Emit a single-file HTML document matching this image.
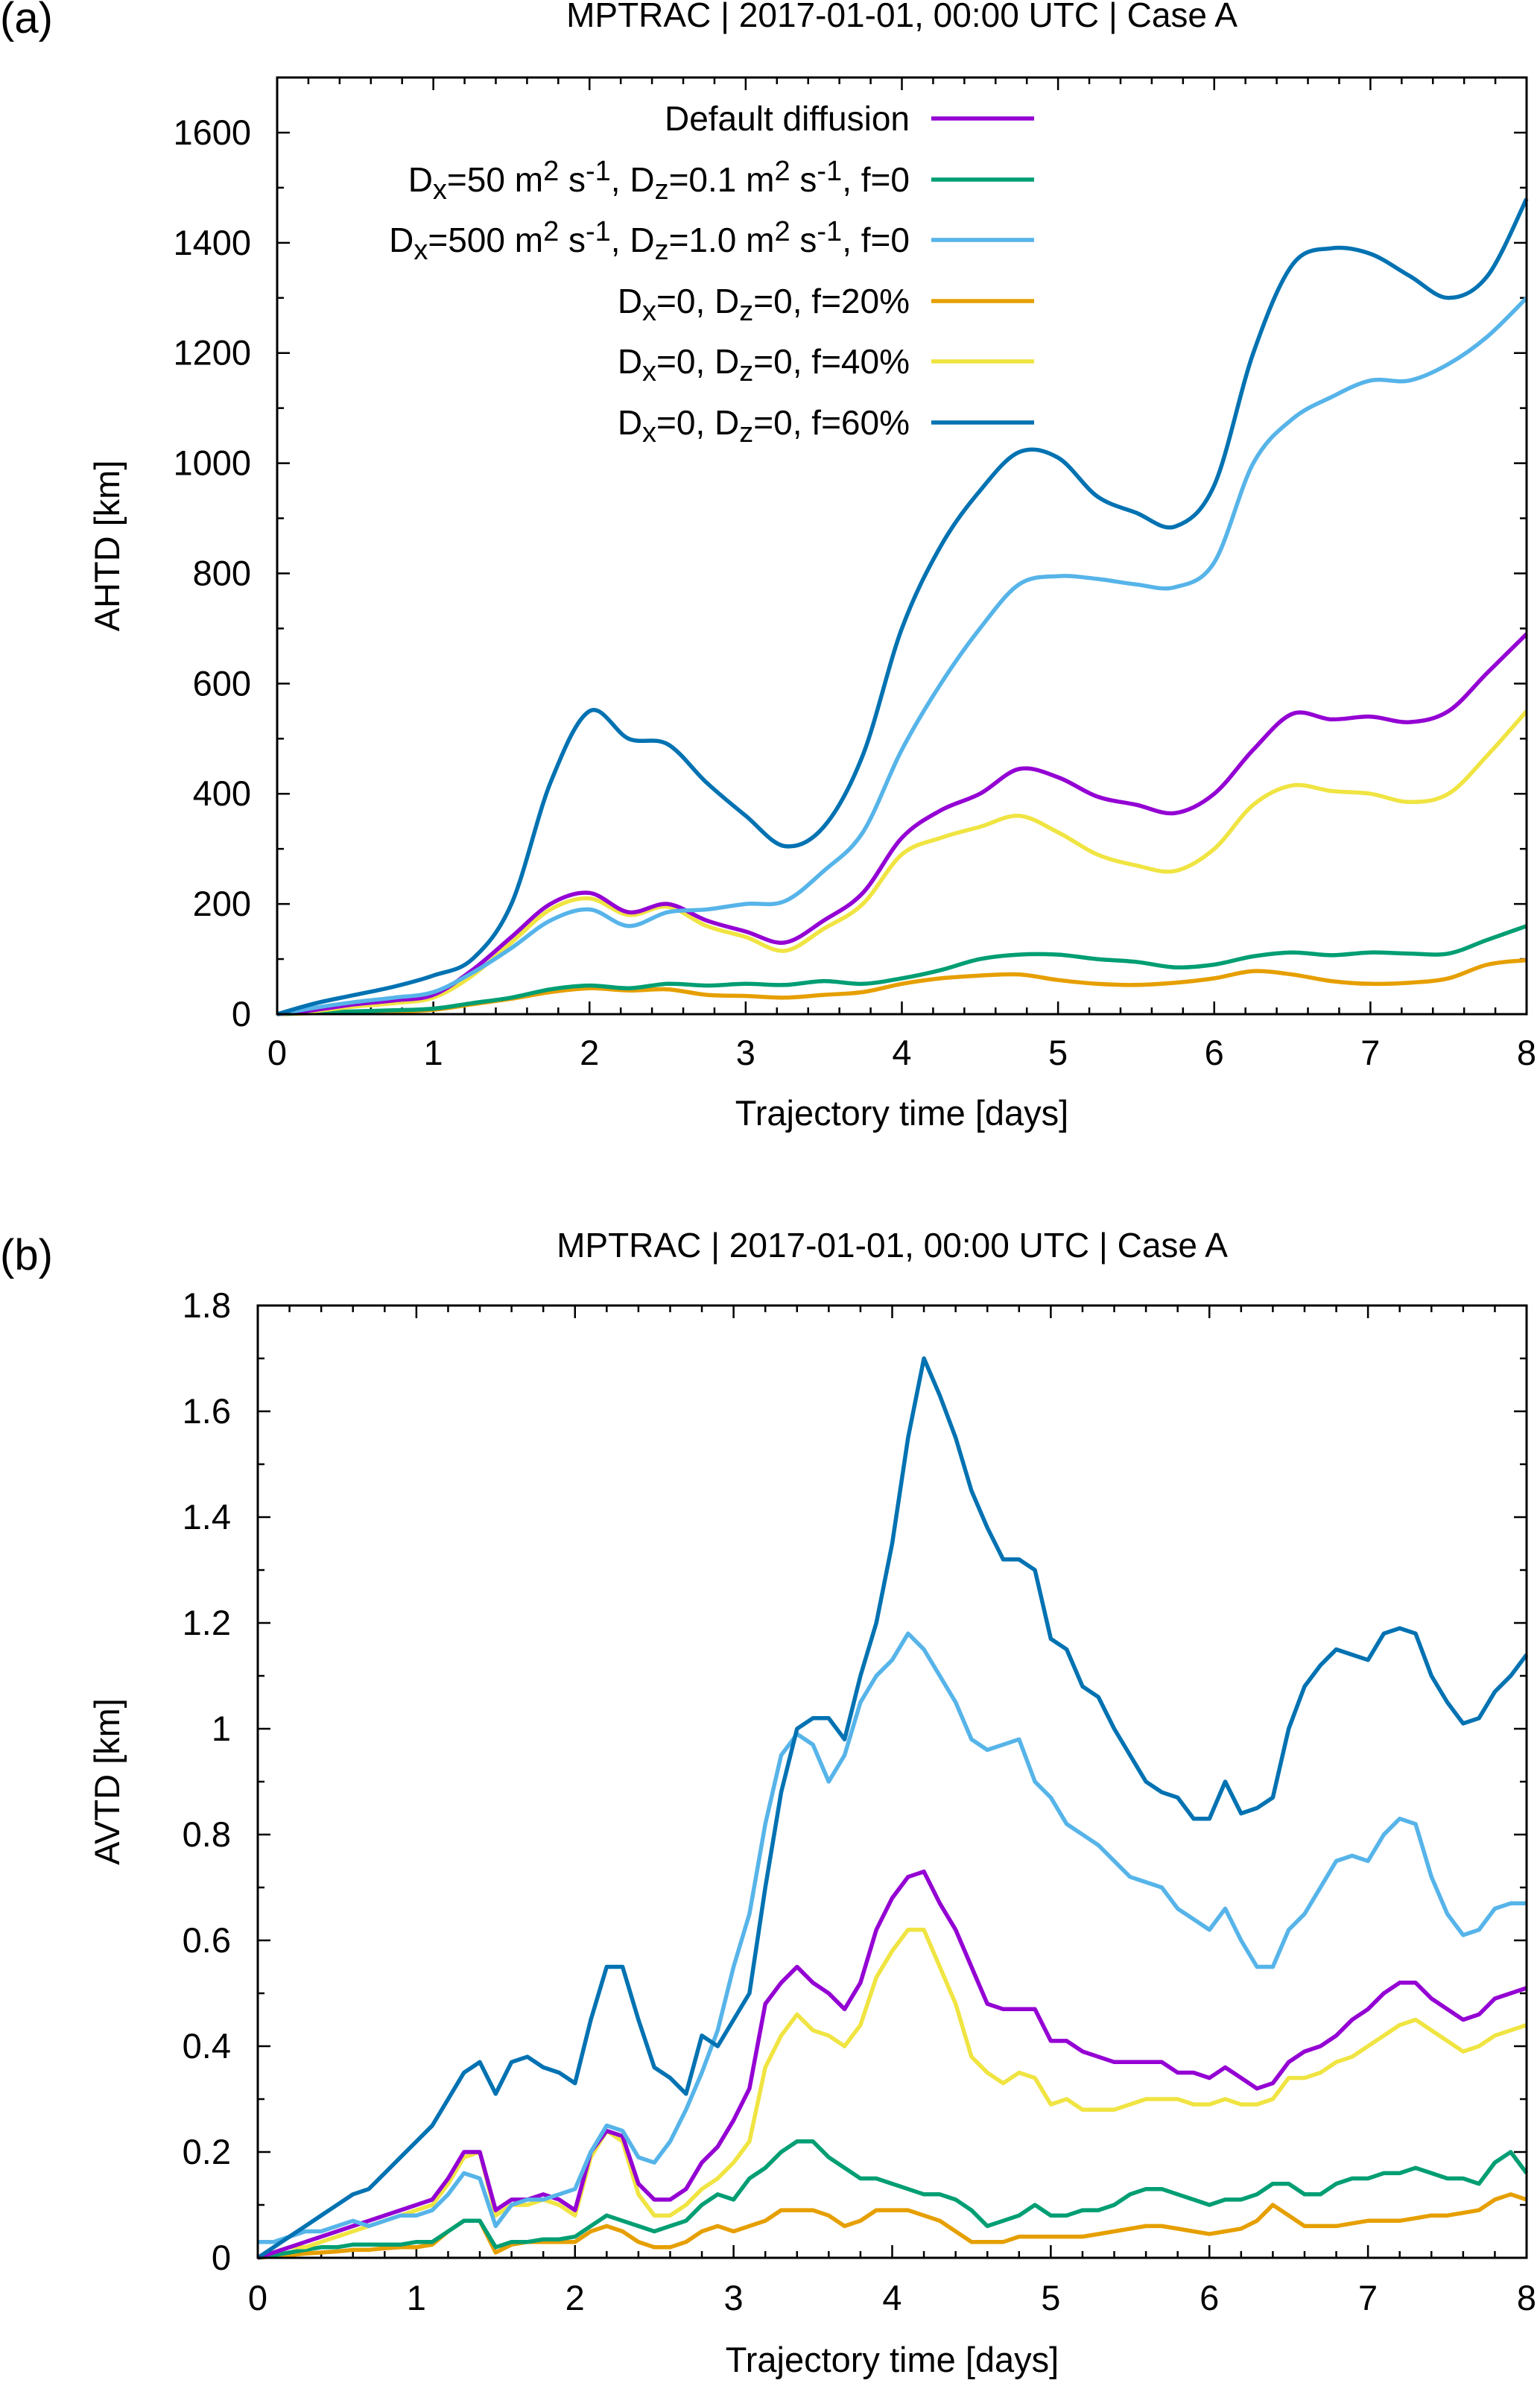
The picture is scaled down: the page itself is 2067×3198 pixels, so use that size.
<!DOCTYPE html>
<html><head><meta charset="utf-8">
<style>
html,body{margin:0;padding:0;background:#fff;}
svg{display:block;}
text{font-family:"Liberation Sans",Arial,sans-serif;fill:#000;}
</style></head>
<body>
<svg id="fig" width="2067" height="3198" viewBox="0 0 2067 3198" xmlns="http://www.w3.org/2000/svg">
  <g id="panelA"></g>
  <g id="panelB"></g>
</svg>
<script>
const daysA = [0,0.25,0.5,0.75,1,1.25,1.5,1.75,2,2.25,2.5,2.75,3,3.25,3.5,3.75,4,4.25,4.5,4.75,5,5.25,5.5,5.75,6,6.25,6.5,6.75,7,7.25,7.5,7.75,8];
const ahtdDefault = [0,8,18,25,35,80,140,200,220,185,200,170,150,130,170,220,320,370,400,445,430,395,380,365,400,480,545,535,540,530,550,620,690];
const ahtdD50 = [0,3,5,7,10,20,30,45,52,47,55,52,55,53,60,55,65,80,100,108,108,100,95,85,90,105,112,107,112,110,110,135,160];
const ahtdD500 = [0,12,22,30,40,75,120,170,190,160,185,190,200,205,260,330,480,600,700,780,795,790,780,775,820,1000,1080,1120,1150,1150,1180,1230,1300];
const ahtdF20 = [0,2,4,5,8,18,28,40,47,43,45,35,33,30,35,40,55,65,70,72,62,55,53,57,65,78,72,60,55,57,65,90,98];
const ahtdF40 = [0,6,14,20,30,70,130,190,210,180,195,160,140,115,155,200,290,320,340,360,330,290,270,260,300,380,415,405,400,385,400,470,550];
const ahtdF60 = [0,20,35,50,70,100,200,420,550,500,490,420,360,305,340,470,700,850,950,1020,1010,940,910,885,960,1200,1360,1390,1380,1340,1300,1340,1480];
const yTicksA = [0,200,400,600,800,1000,1200,1400,1600];
const xTicks = [0,1,2,3,4,5,6,7,8];

const daysB = [];
for (let i = 0; i <= 80; i++) daysB.push(+(i*0.1).toFixed(1));
const avtdF60 = [0,.02,.04,.06,.08,.1,.12,.13,.16,.19,.22,.25,.3,.35,.37,.31,.37,.38,.36,.35,.33,.45,.55,.55,.45,.36,.34,.31,.42,.40,.45,.5,.7,.88,1.0,1.02,1.02,.98,1.1,1.2,1.35,1.55,1.7,1.63,1.55,1.45,1.38,1.32,1.32,1.3,1.17,1.15,1.08,1.06,1.0,.95,.9,.88,.87,.83,.83,.9,.84,.85,.87,1.0,1.08,1.12,1.15,1.14,1.13,1.18,1.19,1.18,1.1,1.05,1.01,1.02,1.07,1.1,1.14];
const avtdD500 = [.03,.03,.04,.05,.05,.06,.07,.06,.07,.08,.08,.09,.12,.16,.15,.06,.10,.11,.11,.12,.13,.2,.25,.24,.19,.18,.22,.28,.35,.43,.55,.65,.82,.95,.99,.97,.90,.95,1.05,1.1,1.13,1.18,1.15,1.1,1.05,.98,.96,.97,.98,.9,.87,.82,.8,.78,.75,.72,.71,.7,.66,.64,.62,.66,.6,.55,.55,.62,.65,.7,.75,.76,.75,.8,.83,.82,.72,.65,.61,.62,.66,.67,.67];
const avtdDefault = [0,.01,.02,.03,.04,.05,.06,.07,.08,.09,.10,.11,.15,.20,.20,.09,.11,.11,.12,.11,.09,.2,.24,.23,.14,.11,.11,.13,.18,.21,.26,.32,.48,.52,.55,.52,.50,.47,.52,.62,.68,.72,.73,.67,.62,.55,.48,.47,.47,.47,.41,.41,.39,.38,.37,.37,.37,.37,.35,.35,.34,.36,.34,.32,.33,.37,.39,.40,.42,.45,.47,.50,.52,.52,.49,.47,.45,.46,.49,.5,.51];
const avtdF40 = [0,.01,.02,.02,.03,.04,.05,.06,.07,.08,.09,.10,.14,.19,.2,.08,.1,.1,.11,.1,.08,.19,.24,.22,.12,.08,.08,.1,.13,.15,.18,.22,.36,.42,.46,.43,.42,.40,.44,.53,.58,.62,.62,.55,.48,.38,.35,.33,.35,.34,.29,.30,.28,.28,.28,.29,.30,.30,.30,.29,.29,.30,.29,.29,.30,.34,.34,.35,.37,.38,.40,.42,.44,.45,.43,.41,.39,.40,.42,.43,.44];
const avtdD50 = [0,.005,.01,.015,.02,.02,.025,.025,.025,.025,.03,.03,.05,.07,.07,.02,.03,.03,.035,.035,.04,.06,.08,.07,.06,.05,.06,.07,.1,.12,.11,.15,.17,.2,.22,.22,.19,.17,.15,.15,.14,.13,.12,.12,.11,.09,.06,.07,.08,.1,.08,.08,.09,.09,.1,.12,.13,.13,.12,.11,.10,.11,.11,.12,.14,.14,.12,.12,.14,.15,.15,.16,.16,.17,.16,.15,.15,.14,.18,.2,.16];
const avtdF20 = [0,.003,.005,.008,.01,.012,.015,.015,.018,.02,.02,.025,.05,.07,.07,.01,.025,.03,.03,.03,.03,.05,.06,.05,.03,.02,.02,.03,.05,.06,.05,.06,.07,.09,.09,.09,.08,.06,.07,.09,.09,.09,.08,.07,.05,.03,.03,.03,.04,.04,.04,.04,.04,.045,.05,.055,.06,.06,.055,.05,.045,.05,.055,.07,.1,.08,.06,.06,.06,.065,.07,.07,.07,.075,.08,.08,.085,.09,.11,.12,.11];
const yTicksB = [0,0.2,0.4,0.6,0.8,1,1.2,1.4,1.6,1.8];
const yTickLabelsB = ["0","0.2","0.4","0.6","0.8","1","1.2","1.4","1.6","1.8"];

const COL = {purple:"#9400d3", green:"#009e73", lblue:"#56b4e9", orange:"#e69f00", yellow:"#f0e442", dblue:"#0072b2"};
const NS = "http://www.w3.org/2000/svg";
function mk(tag, attrs, parent){ const e=document.createElementNS(NS,tag); for(const k in attrs) e.setAttribute(k,attrs[k]); parent.appendChild(e); return e; }

function smoothPath(pts){
  let d = "M"+pts[0][0].toFixed(1)+","+pts[0][1].toFixed(1);
  for (let i=0;i<pts.length-1;i++){
    const p0=pts[Math.max(0,i-1)], p1=pts[i], p2=pts[i+1], p3=pts[Math.min(pts.length-1,i+2)];
    const c1=[p1[0]+(p2[0]-p0[0])/6, p1[1]+(p2[1]-p0[1])/6];
    const c2=[p2[0]-(p3[0]-p1[0])/6, p2[1]-(p3[1]-p1[1])/6];
    d += " C"+c1[0].toFixed(1)+","+c1[1].toFixed(1)+" "+c2[0].toFixed(1)+","+c2[1].toFixed(1)+" "+p2[0].toFixed(1)+","+p2[1].toFixed(1);
  }
  return d;
}
function linePath(pts){ return pts.map((p,i)=>(i?"L":"M")+p[0].toFixed(1)+","+p[1].toFixed(1)).join(" "); }

function drawAxes(g, L, R, T, B, xs, ys, yMax, yTicks, yLabels, yMinor, title, titleY, ylabel, yLabelX, tickRight, xTickY, xLabelY, panelLabel, panelLabelY){
  for (let i=0;i<=40;i++){
    const x = xs(i*0.2); const major = i%5===0; const len = major?17:9;
    const t1 = mk("line",{x1:x,y1:B,x2:x,y2:B-len,stroke:"#000","stroke-width":2.5},g);
    
    
    const t2 = mk("line",{x1:x,y1:T,x2:x,y2:T+len,stroke:"#000","stroke-width":2.5},g);
    
    
  }
  for (let v=0; v<=yMax+1e-9; v+=yMinor){
    const y = ys(v); const major = yTicks.some(t=>Math.abs(t-v)<1e-6); const len = major?17:9;
    const t1 = mk("line",{x1:L,y1:y,x2:L+len,y2:y,stroke:"#000","stroke-width":2.5},g);
    
    
    const t2 = mk("line",{x1:R,y1:y,x2:R-len,y2:y,stroke:"#000","stroke-width":2.5},g);
    
    
  }
  yTicks.forEach((v,i)=>{
    const t = mk("text",{x:tickRight,y:ys(v)+16,"text-anchor":"end","font-size":47},g);
    t.textContent = yLabels[i];
    
    
  });
  xTicks.forEach(v=>{
    const t = mk("text",{x:xs(v),y:xTickY,"text-anchor":"middle","font-size":47},g);
    t.textContent = String(v);
    
    
  });
  const tt = mk("text",{x:(L+R)/2,y:titleY,"text-anchor":"middle","font-size":46},g);
  tt.textContent = title;
  
  
  const xl = mk("text",{x:(L+R)/2,y:xLabelY,"text-anchor":"middle","font-size":47},g);
  xl.textContent = "Trajectory time [days]";
  
  
  const yc = (T+B)/2;
  const yl = mk("text",{x:yLabelX,y:yc,"text-anchor":"middle","font-size":47,transform:"rotate(-90 "+yLabelX+" "+yc+")"},g);
  yl.textContent = ylabel;
  
  
  const pl = mk("text",{x:0,y:panelLabelY,"font-size":58},g);
  pl.textContent = panelLabel;
  
  
}

function frame(g,L,R,T,B){
  const f = mk("rect",{x:L,y:T,width:R-L,height:B-T,fill:"none",stroke:"#000","stroke-width":3},g);
  
  
}

// ===== Panel A =====
(function(){
  const g = document.getElementById("panelA");
  const L=372, R=2049, T=104, B=1361, yMax=1700;
  const xs = d => L + d/8*(R-L);
  const ys = v => B - v/yMax*(B-T);
  drawAxes(g,L,R,T,B,xs,ys,yMax,yTicksA,yTicksA.map(String),100,"MPTRAC | 2017-01-01, 00:00 UTC | Case A",36,"AHTD [km]",160,337,1429,1510,"(a)",44);
  const series = [
    [ahtdF20,COL.orange,"series-f20"],[ahtdD50,COL.green,"series-d50"],[ahtdF40,COL.yellow,"series-f40"],
    [ahtdDefault,COL.purple,"series-default"],[ahtdD500,COL.lblue,"series-d500"],[ahtdF60,COL.dblue,"series-f60"]];
  series.forEach(s=>{
    const pts = daysA.map((d,i)=>[xs(d),ys(s[0][i])]);
    const p = mk("path",{d:smoothPath(pts),fill:"none",stroke:s[1],"stroke-width":5.5,"stroke-linejoin":"round"},g);
    
    
  });
  const leg = mk("g",{},g);
  
  
  const sb = '<tspan baseline-shift="-25%" font-size="38">';
  const sp = '<tspan baseline-shift="40%" font-size="38">';
  const rows = [
    [COL.purple,'Default diffusion'],
    [COL.green,'D'+sb+'x</tspan>=50 m'+sp+'2</tspan> s'+sp+'-1</tspan>, D'+sb+'z</tspan>=0.1 m'+sp+'2</tspan> s'+sp+'-1</tspan>, f=0'],
    [COL.lblue,'D'+sb+'x</tspan>=500 m'+sp+'2</tspan> s'+sp+'-1</tspan>, D'+sb+'z</tspan>=1.0 m'+sp+'2</tspan> s'+sp+'-1</tspan>, f=0'],
    [COL.orange,'D'+sb+'x</tspan>=0, D'+sb+'z</tspan>=0, f=20%'],
    [COL.yellow,'D'+sb+'x</tspan>=0, D'+sb+'z</tspan>=0, f=40%'],
    [COL.dblue,'D'+sb+'x</tspan>=0, D'+sb+'z</tspan>=0, f=60%']];
  const rowY = [159,241,322,404,485,567];
  rows.forEach((r,i)=>{
    const t = mk("text",{x:1221,y:rowY[i]+16,"text-anchor":"end","font-size":46},leg);
    t.innerHTML = r[1];
    
    
    const l = mk("line",{x1:1250,y1:rowY[i],x2:1388,y2:rowY[i],stroke:r[0],"stroke-width":5.5},leg);
    
    
  });
  frame(g,L,R,T,B);
})();

// ===== Panel B =====
(function(){
  const g = document.getElementById("panelB");
  const L=346, R=2049, T=1752, B=3030, yMax=1.8;
  const xs = d => L + d/8*(R-L);
  const ys = v => B - v/yMax*(B-T);
  drawAxes(g,L,R,T,B,xs,ys,yMax,yTicksB,yTickLabelsB,0.1,"MPTRAC | 2017-01-01, 00:00 UTC | Case A",1687,"AVTD [km]",160,310,3100,3183,"(b)",1704);
  const series = [
    [avtdF20,COL.orange,"series-f20"],[avtdD50,COL.green,"series-d50"],[avtdF40,COL.yellow,"series-f40"],
    [avtdDefault,COL.purple,"series-default"],[avtdD500,COL.lblue,"series-d500"],[avtdF60,COL.dblue,"series-f60"]];
  series.forEach(s=>{
    const pts = daysB.map((d,i)=>[xs(d),ys(s[0][i])]);
    const p = mk("path",{d:linePath(pts),fill:"none",stroke:s[1],"stroke-width":5.5,"stroke-linejoin":"round"},g);
    
    
  });
  frame(g,L,R,T,B);
})();
</script>
</body></html>
